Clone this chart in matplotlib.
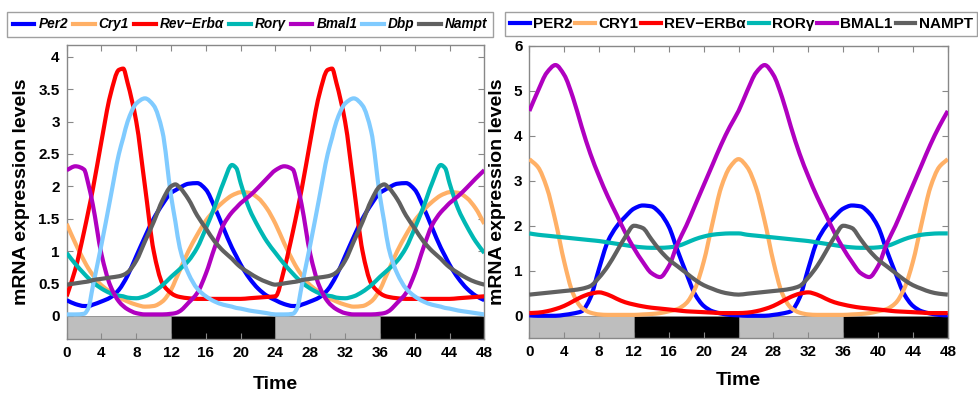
import numpy as np
import matplotlib
matplotlib.use("Agg")
import matplotlib.pyplot as plt
from matplotlib.path import Path
from matplotlib.patches import PathPatch
from matplotlib.lines import Line2D

plt.rcParams['font.family'] = ['Liberation Sans', 'DejaVu Sans']
plt.rcParams['font.weight'] = 'bold'

# ---- data (one 24 h day, the plot shows two identical days)
t_left = [0, 1, 2, 2.5, 3, 4, 5, 6, 6.5, 7, 8, 9, 10, 11, 12, 12.5, 13, 14, 15, 16,
          17, 18, 19, 19.5, 20, 21, 22, 23, 24]
per2_l = [0.24, 0.18, 0.15, 0.15, 0.17, 0.22, 0.28, 0.40, 0.50, 0.62, 0.92, 1.22, 1.50, 1.72,
          1.90, 1.94, 1.98, 2.04, 2.05, 1.95, 1.68, 1.36, 1.05, 0.92, 0.79, 0.58, 0.42, 0.31, 0.24]
cry1_l = [1.42, 1.12, 0.85, 0.73, 0.63, 0.47, 0.37, 0.28, 0.25, 0.22, 0.17, 0.14, 0.15, 0.22,
          0.40, 0.55, 0.70, 1.00, 1.25, 1.47, 1.63, 1.76, 1.86, 1.89, 1.91, 1.90, 1.82, 1.66, 1.42]
reverb_l = [0.30, 0.72, 1.30, 1.62, 1.95, 2.70, 3.40, 3.80, 3.82, 3.60, 3.00, 2.00, 1.00, 0.50,
            0.35, 0.31, 0.29, 0.27, 0.26, 0.26, 0.26, 0.26, 0.26, 0.26, 0.26, 0.27, 0.28, 0.29, 0.30]
ror_l = [0.97, 0.80, 0.65, 0.58, 0.52, 0.42, 0.35, 0.31, 0.30, 0.28, 0.27, 0.30, 0.37, 0.47,
         0.60, 0.66, 0.72, 0.85, 1.05, 1.35, 1.68, 2.05, 2.33, 2.28, 2.05, 1.65, 1.38, 1.15, 0.97]
bmal1_l = [2.25, 2.31, 2.26, 2.03, 1.72, 0.95, 0.47, 0.22, 0.15, 0.10, 0.04, 0.02, 0.02, 0.02,
           0.03, 0.04, 0.07, 0.20, 0.35, 0.65, 1.05, 1.40, 1.60, 1.67, 1.74, 1.85, 1.98, 2.12, 2.25]
dbp_l = [0.02, 0.02, 0.03, 0.12, 0.45, 1.10, 1.80, 2.50, 2.75, 3.00, 3.28, 3.36, 3.25, 2.85,
         1.85, 1.45, 1.05, 0.65, 0.42, 0.30, 0.22, 0.17, 0.14, 0.12, 0.11, 0.08, 0.06, 0.04, 0.02]
nampt_l = [0.48, 0.50, 0.52, 0.53, 0.55, 0.57, 0.59, 0.61, 0.63, 0.67, 0.85, 1.15, 1.45, 1.78,
           2.00, 2.03, 1.98, 1.80, 1.55, 1.35, 1.15, 1.00, 0.88, 0.81, 0.75, 0.66, 0.58, 0.52, 0.48]

t_right = list(range(25))
per2_r = [0.01, 0.00, 0.00, 0.00, 0.02, 0.05, 0.10, 0.40, 1.05, 1.65, 1.98, 2.20, 2.38, 2.45,
          2.43, 2.28, 1.98, 1.45, 0.95, 0.48, 0.22, 0.10, 0.05, 0.02, 0.01]
cry1_r = [3.48, 3.30, 2.85, 2.10, 1.20, 0.50, 0.18, 0.07, 0.03, 0.02, 0.02, 0.02, 0.02, 0.03,
          0.04, 0.06, 0.10, 0.15, 0.28, 0.60, 1.20, 2.05, 2.85, 3.30, 3.48]
reverb_r = [0.06, 0.07, 0.10, 0.15, 0.22, 0.32, 0.42, 0.49, 0.52, 0.47, 0.38, 0.30, 0.25, 0.21,
            0.18, 0.16, 0.14, 0.12, 0.10, 0.09, 0.08, 0.07, 0.06, 0.06, 0.06]
ror_r = [1.83, 1.80, 1.78, 1.76, 1.74, 1.72, 1.70, 1.68, 1.66, 1.63, 1.60, 1.57, 1.54, 1.52,
         1.51, 1.51, 1.52, 1.55, 1.62, 1.70, 1.76, 1.80, 1.82, 1.83, 1.83]
bmal1_r = [4.55, 5.00, 5.40, 5.57, 5.35, 4.85, 4.20, 3.60, 3.10, 2.65, 2.25, 1.85, 1.50, 1.20,
           0.95, 0.86, 1.10, 1.60, 2.00, 2.45, 2.90, 3.35, 3.80, 4.20, 4.55]
nampt_r = [0.47, 0.49, 0.51, 0.53, 0.55, 0.57, 0.60, 0.66, 0.85, 1.10, 1.42, 1.75, 2.00, 1.95,
           1.70, 1.45, 1.25, 1.10, 0.95, 0.80, 0.68, 0.60, 0.53, 0.49, 0.47]

# light/dark bar under the curves
ld_start = [0, 12, 24, 36]
ld_color = ['#bebebe', '#000000', '#bebebe', '#000000']

col = {'per2': '#0000ff', 'cry1': '#ffb066', 'reverb': '#ff0000', 'ror': '#00b8b4',
       'bmal1': '#b000c0', 'dbp': '#80cbff', 'nampt': '#606060'}


def two_days(t, v):
    t = np.asarray(t, float)
    v = np.asarray(v, float)
    return np.concatenate([t, t[1:] + 24]), np.concatenate([v, v[1:]])


def smooth_path(x, y):
    # monotone cubic (pchip-style) tangents, drawn as bezier segments through the points
    h = np.diff(x)
    d = np.diff(y) / h
    m = np.zeros_like(y)
    m[0], m[-1] = d[0], d[-1]
    for k in range(1, len(x) - 1):
        if d[k - 1] * d[k] > 0:
            w1 = 2 * h[k] + h[k - 1]
            w2 = h[k] + 2 * h[k - 1]
            m[k] = (w1 + w2) / (w1 / d[k - 1] + w2 / d[k])
    verts = [(x[0], y[0])]
    for k in range(len(h)):
        verts += [(x[k] + h[k] / 3, y[k] + m[k] * h[k] / 3),
                  (x[k + 1] - h[k] / 3, y[k + 1] - m[k + 1] * h[k] / 3),
                  (x[k + 1], y[k + 1])]
    return Path(verts, [Path.MOVETO] + [Path.CURVE4] * (3 * len(h)))


def draw_series(ax, t, series):
    handles = []
    for key, vals, name in series:
        x, y = two_days(t, vals)
        ax.add_patch(PathPatch(smooth_path(x, y), fill=False, edgecolor=col[key], lw=3,
                               capstyle='butt', joinstyle='round', zorder=3))
        handles.append(Line2D([], [], color=col[key], lw=3, label=name))
    return handles


def style_axes(ax, ymin, ymax, yticks, yticklabels):
    ax.set_xlim(0, 48)
    ax.set_ylim(ymin, ymax)
    ax.set_xticks(range(0, 49, 4))
    ax.set_yticks(yticks)
    ax.set_yticklabels(yticklabels)
    ax.tick_params(direction='in', length=4, color='#888888', top=True, right=True,
                   labelsize=11, pad=5)
    for lab in ax.get_xticklabels() + ax.get_yticklabels():
        lab.set_fontweight('bold')
    for s in ax.spines.values():
        s.set_color('#888888')
        s.set_linewidth(1)
    for x0, c in zip(ld_start, ld_color):
        ax.bar(x0, -ymin, width=12, bottom=ymin, align='edge', color=c,
               edgecolor='#888888', linewidth=0.6, zorder=1)
    ax.set_xlabel('Time', fontsize=14, fontweight='bold')
    ax.set_ylabel('mRNA expression levels', fontsize=14, fontweight='bold')


fig = plt.figure(figsize=(9.79, 3.94), dpi=100)
ax1 = fig.add_axes([0.0681, 0.1396, 0.4266, 0.747])
ax2 = fig.add_axes([0.5407, 0.1414, 0.4274, 0.7426])

h1 = draw_series(ax1, t_left, [
    ('per2', per2_l, 'Per2'), ('cry1', cry1_l, 'Cry1'),
    ('reverb', reverb_l, 'Rev\u2212Erb\u03b1'), ('ror', ror_l, 'Ror\u03b3'),
    ('bmal1', bmal1_l, 'Bmal1'), ('dbp', dbp_l, 'Dbp'), ('nampt', nampt_l, 'Nampt')])
h2 = draw_series(ax2, t_right, [
    ('per2', per2_r, 'PER2'), ('cry1', cry1_r, 'CRY1'),
    ('reverb', reverb_r, 'REV\u2212ERB\u03b1'), ('ror', ror_r, 'ROR\u03b3'),
    ('bmal1', bmal1_r, 'BMAL1'), ('nampt', nampt_r, 'NAMPT')])

style_axes(ax1, -0.36, 4.19, np.arange(0, 4.01, 0.5),
           ['0', '0.5', '1', '1.5', '2', '2.5', '3', '3.5', '4'])
style_axes(ax2, -0.5, 6.0, range(7), [str(i) for i in range(7)])

ax1.yaxis.set_label_coords(-0.088, 0.5)
ax2.yaxis.set_label_coords(-0.056, 0.5)
ax1.xaxis.set_label_coords(0.5, -0.125)
ax2.xaxis.set_label_coords(0.5, -0.115)

leg1 = fig.legend(handles=h1, loc='center', bbox_to_anchor=(0.2555, 0.938), ncol=7,
                  prop={'family': 'Liberation Sans', 'weight': 'bold', 'style': 'italic', 'size': 9.8},
                  handlelength=1.6, handletextpad=0.3, columnspacing=0.35,
                  fancybox=False, edgecolor='#888888', borderpad=0.4, borderaxespad=0)
leg1.get_frame().set_linewidth(1)
leg2 = fig.legend(handles=h2, loc='center', bbox_to_anchor=(0.757, 0.939), ncol=6,
                  prop={'family': 'Liberation Sans', 'weight': 'bold', 'size': 11},
                  handlelength=1.3, handletextpad=0.2, columnspacing=0.2,
                  fancybox=False, edgecolor='#888888', borderpad=0.3, borderaxespad=0)
leg2.get_frame().set_linewidth(1)

fig.savefig('out.png', dpi=100)
